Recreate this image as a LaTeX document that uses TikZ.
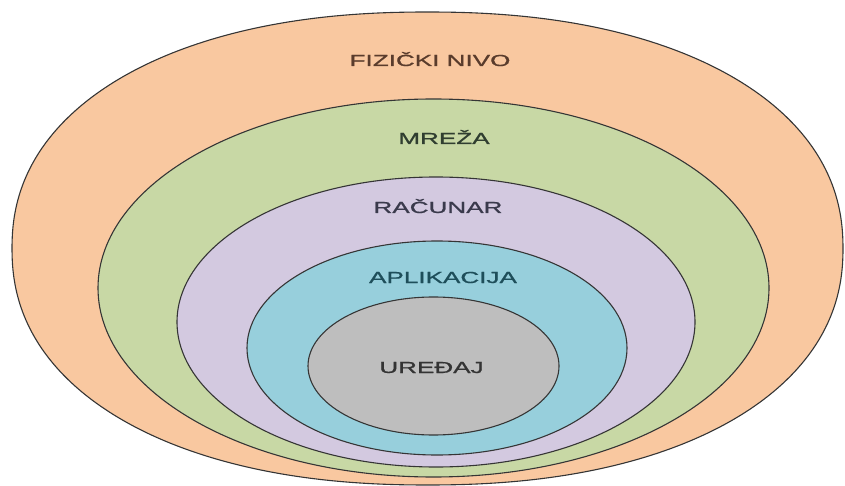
\documentclass[tikz,border=0pt]{standalone}
\usepackage{fontspec}
\setmainfont{Liberation Sans}
\newfontfamily\tagfont{Liberation Sans}[FakeBold=0.8]
\usetikzlibrary{shapes.geometric}
\definecolor{peach}{HTML}{F9C8A0}
\definecolor{sage}{HTML}{C8D8A5}
\definecolor{lilac}{HTML}{D3C9E0}
\definecolor{aqua}{HTML}{97CFDC}
\definecolor{stone}{HTML}{BEBEBE}
\definecolor{rim}{HTML}{353535}
\begin{document}
\begin{tikzpicture}[x=1pt,y=-1pt,
  layer/.style={ellipse, draw=rim, line width=1.1pt, inner sep=0pt},
  rimline/.style={draw=rim, line width=1.1pt},
  tag/.style={anchor=base, xscale=1.63, font=\tagfont\fontsize{16}{18}\selectfont}]
\useasboundingbox (0,0) rectangle (845,486);
% outermost layer: a slightly squared oval (superellipse, exponent 2.2)
\coordinate (fizicki) at (427.5,248.5);
\draw[rimline, fill=peach]
  plot[smooth cycle, domain=0.5:358.5, samples=180, variable=\t]
  ({427.5 + 415.5*cos(\t)*abs(cos(\t))^(-0.0909)},
   {248.5 + 236.5*sin(\t)*abs(sin(\t))^(-0.0909)});
% nested layers inside it
\node[layer, fill=sage,  minimum width=671pt, minimum height=378pt] (mreza) at (433.5,288) {};
\node[layer, fill=lilac, minimum width=518pt, minimum height=290pt] (racunar) at (436,322) {};
\node[layer, fill=aqua,  minimum width=380pt, minimum height=214pt] (aplikacija) at (437,348) {};
\node[layer, fill=stone, minimum width=251pt, minimum height=138pt] (uredjaj) at (433.5,366) {};
% layer names
\node[tag, text={rgb,255:red,90;green,60;blue,44}] (tfizicki) at (430,66) {FIZIČKI NIVO};
\node[tag, text={rgb,255:red,48;green,62;blue,48}] (tmreza) at (444,144) {MREŽA};
\node[tag, text={rgb,255:red,58;green,58;blue,76}] (tracunar) at (438,213) {RAČUNAR};
\node[tag, text={rgb,255:red,30;green,78;blue,90}] (taplikacija) at (443,283) {APLIKACIJA};
\node[tag, text={rgb,255:red,52;green,52;blue,52}] (turedjaj) at (431.5,373) {UREĐAJ};
\end{tikzpicture}
\end{document}
